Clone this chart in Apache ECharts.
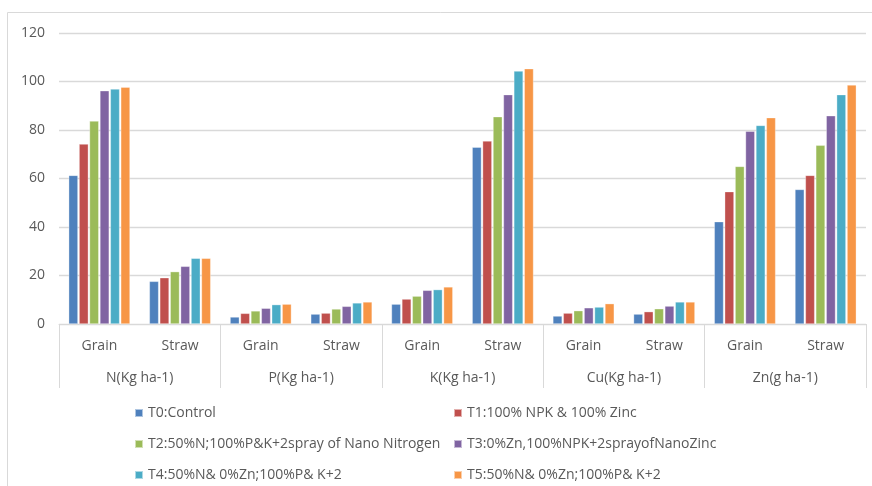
<!DOCTYPE html>
<html>
<head>
<meta charset="utf-8">
<script src="https://cdn.jsdelivr.net/npm/echarts@6/dist/echarts.min.js"></script>
<style>
  html, body { margin: 0; padding: 0; background: #fff; }
  #chart { width: 872px; height: 486px; }
</style>
</head>
<body>
<div id="chart"></div>
<script>
// Nutrient uptake by treatment: grain and straw for each nutrient
const parts = ['Grain', 'Straw', 'Grain', 'Straw', 'Grain', 'Straw', 'Grain', 'Straw', 'Grain', 'Straw'];
const nutrients = ['N(Kg ha-1)', 'P(Kg ha-1)', 'K(Kg ha-1)', 'Cu(Kg ha-1)', 'Zn(g ha-1)'];
const yTicks = [0, 20, 40, 60, 80, 100, 120];

const seriesNames = [
  'T0:Control',
  'T1:100% NPK & 100% Zinc',
  'T2:50%N;100%P&K+2spray of Nano Nitrogen',
  'T3:0%Zn,100%NPK+2sprayofNanoZinc',
  'T4:50%N& 0%Zn;100%P& K+2',
  'T5:50%N& 0%Zn;100%P& K+2'
];

const t0 = [61.3, 17.6, 2.9, 4.1, 8.2, 72.9, 3.3, 4.1, 42.2, 55.5];
const t1 = [74.2, 19.1, 4.4, 4.5, 10.3, 75.5, 4.5, 5.1, 54.6, 61.3];
const t2 = [83.7, 21.6, 5.4, 6.2, 11.5, 85.5, 5.5, 6.3, 65.0, 73.7];
const t3 = [96.2, 23.8, 6.5, 7.3, 13.9, 94.6, 6.7, 7.4, 79.5, 85.9];
const t4 = [96.9, 27.1, 8.0, 8.7, 14.2, 104.3, 7.0, 9.1, 81.9, 94.6];
const t5 = [97.7, 27.1, 8.2, 9.1, 15.3, 105.3, 8.4, 9.1, 85.1, 98.6];

const seriesValues = [t0, t1, t2, t3, t4, t5];
const colors = ['#4F81BD', '#C0504D', '#9BBB59', '#8064A2', '#4BACC6', '#F79646'];

const FONT = 'Open Sans';
const TEXT = '#595959';
const LINE = '#d9d9d9';

// legend: two columns, three rows
const legendCols = [134, 453];
const legendRows = [405, 436, 467];
const legends = seriesNames.map((name, i) => ({
  data: [name],
  left: legendCols[i % 2],
  top: legendRows[Math.floor(i / 2)],
  padding: 0,
  icon: 'rect',
  itemWidth: 8,
  itemHeight: 8,
  selectedMode: false,
  textStyle: { color: TEXT, fontFamily: FONT, fontSize: 14, lineHeight: 16 }
}));

const chart = echarts.init(document.getElementById('chart'), null, { renderer: 'canvas' });

chart.setOption({
  animation: false,
  color: colors,
  graphic: [{
    type: 'rect',
    shape: { x: 7.5, y: 12.5, width: 900, height: 500 },
    style: { fill: 'none', stroke: LINE, lineWidth: 1 },
    silent: true
  }],
  legend: legends,
  grid: { left: 59, right: 6, top: 33, bottom: 162 },
  xAxis: [
    {
      type: 'category',
      data: parts,
      position: 'bottom',
      axisLine: { show: true, lineStyle: { color: LINE, width: 1 } },
      axisTick: { show: false },
      axisLabel: { color: TEXT, fontFamily: FONT, fontSize: 14, lineHeight: 16, margin: 14 }
    },
    {
      type: 'category',
      data: nutrients,
      position: 'bottom',
      axisLine: { show: false },
      axisTick: { show: true, length: 64, inside: false, lineStyle: { color: LINE, width: 1 } },
      axisLabel: { color: TEXT, fontFamily: FONT, fontSize: 14, lineHeight: 16, margin: 46 }
    }
  ],
  yAxis: {
    type: 'value',
    min: yTicks[0],
    max: yTicks[yTicks.length - 1],
    interval: 20,
    axisLine: { show: false },
    axisTick: { show: false },
    axisLabel: { color: TEXT, fontFamily: FONT, fontSize: 14, margin: 14 },
    splitLine: { lineStyle: { color: LINE, width: 1.3 } }
  },
  series: seriesValues.map((vals, i) => ({
    name: seriesNames[i],
    type: 'bar',
    xAxisIndex: 0,
    data: vals,
    barWidth: 9.3,
    barGap: '12%',
    itemStyle: { color: colors[i], borderColor: 'rgba(255,255,255,0.55)', borderWidth: 0.6 }
  }))
});
</script>
</body>
</html>
